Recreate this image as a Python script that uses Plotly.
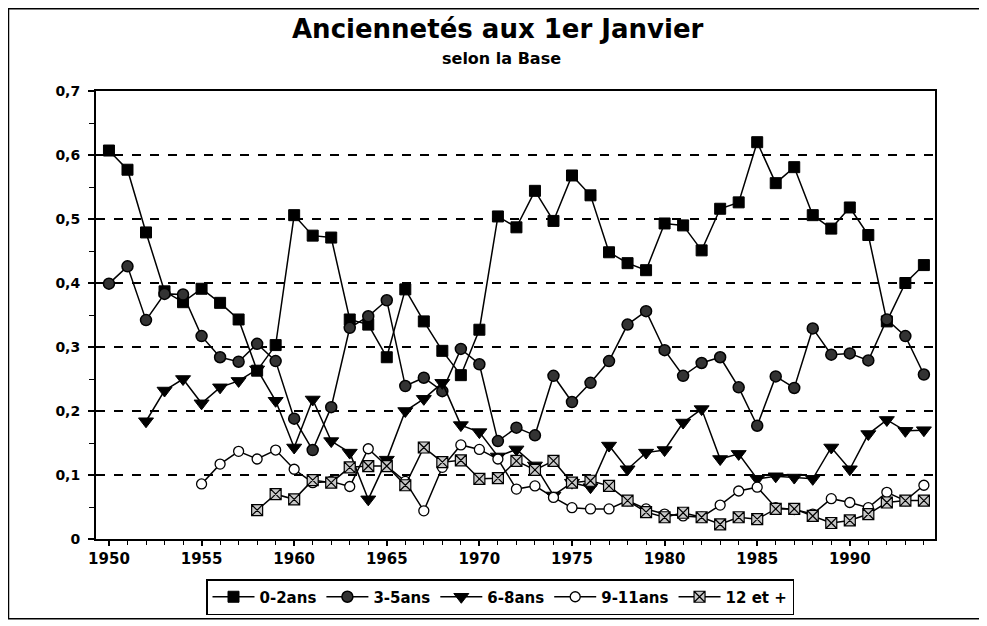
import plotly.graph_objects as go

# ---------------- data ----------------
years_02 = list(range(1950, 1995))
v_02 = [0.607, 0.577, 0.479, 0.387, 0.370, 0.391, 0.369, 0.343, 0.263, 0.303,
        0.506, 0.474, 0.471, 0.343, 0.335, 0.284, 0.390, 0.340, 0.294, 0.256,
        0.327, 0.504, 0.487, 0.544, 0.497, 0.568, 0.537, 0.448, 0.431, 0.420,
        0.493, 0.490, 0.451, 0.516, 0.526, 0.620, 0.556, 0.581, 0.506, 0.485,
        0.518, 0.475, 0.340, 0.400, 0.428]

years_35 = list(range(1950, 1995))
v_35 = [0.399, 0.426, 0.342, 0.383, 0.382, 0.317, 0.284, 0.277, 0.305, 0.278,
        0.188, 0.139, 0.206, 0.330, 0.348, 0.373, 0.239, 0.252, 0.231, 0.297,
        0.273, 0.153, 0.174, 0.162, 0.255, 0.214, 0.244, 0.278, 0.335, 0.356,
        0.295, 0.255, 0.275, 0.284, 0.237, 0.177, 0.254, 0.236, 0.329, 0.288,
        0.290, 0.279, 0.343, 0.317, 0.257]

years_68 = list(range(1952, 1995))
v_68 = [0.184, 0.232, 0.250, 0.212, 0.237, 0.247, 0.265, 0.216,
        0.143, 0.218, 0.153, 0.135, 0.062, 0.124, 0.200, 0.219, 0.244, 0.178,
        0.167, 0.129, 0.140, 0.115, 0.068, 0.088, 0.081, 0.146, 0.109, 0.135,
        0.139, 0.182, 0.203, 0.125, 0.133, 0.094, 0.098, 0.096, 0.094, 0.143,
        0.109, 0.164, 0.186, 0.169, 0.170]

years_911 = list(range(1955, 1995))
v_911 = [0.086, 0.117, 0.137, 0.125, 0.139,
         0.109, 0.088, 0.090, 0.082, 0.141, 0.114, 0.090, 0.044, 0.112, 0.147,
         0.140, 0.125, 0.078, 0.083, 0.065, 0.049, 0.047, 0.047, 0.060, 0.047,
         0.039, 0.036, 0.034, 0.053, 0.075, 0.081, 0.049, 0.046, 0.039, 0.063,
         0.057, 0.049, 0.073, 0.060, 0.084]

years_12 = list(range(1958, 1995))
v_12 = [0.045, 0.070,
        0.062, 0.092, 0.088, 0.112, 0.114, 0.114, 0.084, 0.143, 0.120, 0.123,
        0.094, 0.095, 0.122, 0.108, 0.122, 0.088, 0.091, 0.083, 0.060, 0.042,
        0.034, 0.041, 0.034, 0.023, 0.034, 0.031, 0.047, 0.047, 0.036, 0.025,
        0.029, 0.039, 0.057, 0.060, 0.060]

series_names = ["0-2ans", "3-5ans", "6-8ans", "9-11ans", "12 et +"]

y_tickvals = [0, 0.1, 0.2, 0.3, 0.4, 0.5, 0.6, 0.7]
y_ticktext = ["0", "0,1", "0,2", "0,3", "0,4", "0,5", "0,6", "0,7"]
x_tickvals = [1950, 1955, 1960, 1965, 1970, 1975, 1980, 1985, 1990]

title_text = "Anciennetés aux 1er Janvier"
subtitle_text = "selon la Base"

# ---------------- figure ----------------
FONT = "DejaVu Sans, Arial, sans-serif"
W, H = 979, 618
ML, MR, MT, MB = 88, 52, 83, 86
PW, PH = W - ML - MR, H - MT - MB


def px(fx):
    return (fx - ML) / PW


def py(fy):
    return (H - MB - fy) / PH


fig = go.Figure()

styles = [
    dict(symbol="square", size=11, color="black", line=dict(color="black", width=1)),
    dict(symbol="circle", size=11, color="#333333", line=dict(color="black", width=1.5)),
    dict(symbol="triangle-down", size=13, color="black", line=dict(color="black", width=1)),
    dict(symbol="circle", size=10, color="white", line=dict(color="black", width=1.3)),
    dict(symbol="square-x", size=11, color="#c8c8c8", line=dict(color="black", width=1.2)),
]
data = [(years_02, v_02), (years_35, v_35), (years_68, v_68),
        (years_911, v_911), (years_12, v_12)]

for (xs, ys), name, st in zip(data, series_names, styles):
    fig.add_trace(go.Scatter(
        x=xs, y=ys, name=name, mode="lines+markers",
        line=dict(color="black", width=1.5),
        marker=st,
    ))

fig.update_layout(
    width=W, height=H,
    margin=dict(l=ML, r=MR, t=MT, b=MB),
    paper_bgcolor="white", plot_bgcolor="white",
    font=dict(family=FONT, color="black", size=13),
    showlegend=True,
    legend=dict(
        orientation="h", x=px(492), xanchor="center", y=py(589), yanchor="middle",
        bordercolor="black", borderwidth=1.5, bgcolor="white",
        font=dict(family=FONT, size=15, weight="bold"),
        itemwidth=42, tracegroupgap=0,
    ),
    annotations=[
        dict(text=title_text, xref="paper", yref="paper", x=px(490), y=py(21),
             showarrow=False, xanchor="center", yanchor="middle",
             font=dict(family=FONT, size=26, weight="bold")),
        dict(text=subtitle_text, xref="paper", yref="paper", x=px(493), y=py(50),
             showarrow=False, xanchor="center", yanchor="middle",
             font=dict(family=FONT, size=16, weight="bold")),
    ],
    shapes=[
        dict(type="rect", xref="paper", yref="paper",
             x0=px(0.5), x1=px(973), y0=py(612), y1=py(0.5),
             line=dict(color="black", width=1.5), fillcolor="rgba(0,0,0,0)", layer="below"),
    ],
)

fig.update_xaxes(
    range=[1949.3, 1994.6],
    tickvals=x_tickvals, ticktext=[str(v) for v in x_tickvals],
    ticks="outside", ticklen=5, tickwidth=1.5, tickcolor="black",
    minor=dict(dtick=1, tick0=1950, ticks="outside", ticklen=4, tickwidth=1.2, tickcolor="black", showgrid=False),
    showgrid=False, zeroline=False,
    showline=True, linecolor="black", linewidth=2, mirror=True,
    tickfont=dict(family=FONT, size=15, weight="bold"),
)
fig.update_yaxes(
    range=[0, 0.7],
    tickvals=y_tickvals, ticktext=y_ticktext,
    ticks="outside", ticklen=6, tickwidth=1.5, tickcolor="black",
    minor=dict(dtick=0.05, tick0=0, ticks="outside", ticklen=5, tickwidth=1.2, tickcolor="black", showgrid=False),
    showgrid=True, gridcolor="black", gridwidth=1.5, griddash="dash",
    zeroline=False,
    showline=True, linecolor="black", linewidth=2, mirror=True,
    ticklabelstandoff=5,
    tickfont=dict(family=FONT, size=14, weight="bold"),
)

fig.write_html("out.html")
